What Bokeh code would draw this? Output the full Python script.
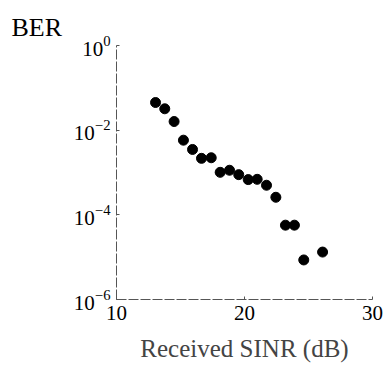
from bokeh.plotting import figure
from bokeh.models import FixedTicker, LogTickFormatter
from bokeh.embed import file_html
from bokeh.resources import INLINE

# Measured bit error rate against received SINR
sinr_db = [13.05, 13.77, 14.5, 15.23, 15.94, 16.64, 17.4, 18.1, 18.83,
           19.55, 20.29, 20.99, 21.72, 22.45, 23.2, 23.9, 24.63, 26.1]
ber = [4.5e-2, 3.2e-2, 1.6e-2, 5.8e-3, 3.5e-3, 2.16e-3, 2.23e-3, 1.01e-3,
       1.13e-3, 8.9e-4, 6.8e-4, 6.9e-4, 5.0e-4, 2.6e-4, 5.7e-5, 5.7e-5,
       8.6e-6, 1.32e-5]

x_ticks = [10, 20, 30]
y_ticks = [1e0, 1e-2, 1e-4, 1e-6]

FONT = "Liberation Serif"

p = figure(width=386, height=377, y_axis_type="log",
           x_range=(10, 30), y_range=(1e-6, 1e0),
           output_backend="svg", toolbar_location=None,
           min_border_left=116, min_border_right=14,
           min_border_top=45, min_border_bottom=78,
           title="BER")

p.scatter(sinr_db, ber, size=10, color="black")

p.grid.visible = False
p.outline_line_color = None
p.background_fill_color = "white"
p.border_fill_color = "white"

# y-axis caption drawn as the title, pulled to the canvas' left edge
p.title.align = "left"
p.title.offset = -105
p.title.text_font = FONT
p.title.text_font_size = "26px"
p.title.text_font_style = "normal"
p.title.text_color = "black"
p.title.standoff = 8

p.xaxis.ticker = FixedTicker(ticks=x_ticks)
p.yaxis.ticker = FixedTicker(ticks=y_ticks)
p.yaxis.formatter = LogTickFormatter()

for ax in (p.xaxis[0], p.yaxis[0]):
    ax.axis_line_color = "#555555"
    ax.axis_line_width = 1
    ax.axis_line_dash = "10 2"
    ax.major_tick_line_color = "#555555"
    ax.major_tick_in = 3
    ax.major_tick_out = 0
    ax.minor_tick_line_color = None
    ax.major_label_text_font = FONT
    ax.major_label_text_font_size = "21px"
    ax.major_label_text_color = "black"

p.xaxis.major_label_standoff = 6
p.yaxis.major_label_standoff = 6

p.xaxis.axis_label = "Received SINR (dB)"
p.xaxis.axis_label_text_font = FONT
p.xaxis.axis_label_text_font_size = "25px"
p.xaxis.axis_label_text_font_style = "normal"
p.xaxis.axis_label_standoff = 12

open("out.html", "w").write(file_html(p, INLINE))
